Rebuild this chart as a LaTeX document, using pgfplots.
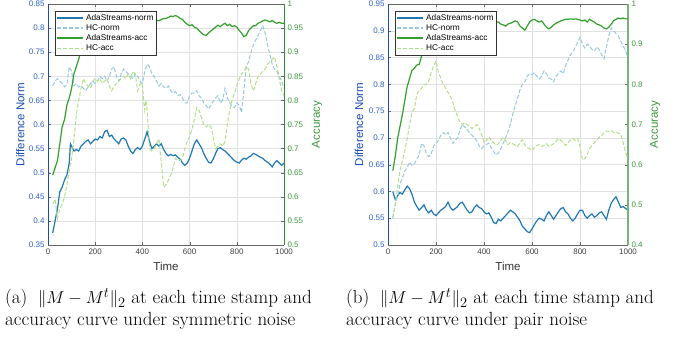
\documentclass[border=0pt]{standalone}
\usepackage{fontspec}
\usepackage{pgfplots}
\pgfplotsset{compat=1.18}
\newfontfamily\arial{Liberation Sans}
\definecolor{cAN}{RGB}{31,120,180}
\definecolor{cHN}{RGB}{150,200,225}
\definecolor{cAA}{RGB}{51,160,44}
\definecolor{cHA}{RGB}{178,223,138}
\definecolor{cL}{RGB}{25,75,185}
\definecolor{cLt}{RGB}{45,95,200}
\definecolor{cR}{RGB}{45,140,45}
\definecolor{cRt}{RGB}{60,150,60}
\definecolor{cRb}{RGB}{120,180,120}
\tikzset{
  adaNormSty/.style={color=cAN, line width=1.2pt},
  hcNormSty/.style={color=cHN, line width=1pt, dash pattern=on 4pt off 2pt},
  adaAccSty/.style={color=cAA, line width=1.2pt},
  hcAccSty/.style={color=cHA, line width=1pt, dash pattern=on 4pt off 2pt},
}
\newcommand\labfont{\arial\fontsize{11.5}{12}\selectfont}
\pgfplotsset{
  base/.style={
    scale only axis, height=241pt,
    xmin=0, xmax=1000, xtick={0,200,400,600,800,1000},
    /pgf/number format/assume math mode=true,
    /pgf/number format/fixed, /pgf/number format/1000 sep={}, scaled ticks=false,
    tick label style={font=\arial\fontsize{8}{9}\selectfont},
    xticklabel style={text=black!75},
    major tick length=3pt,
    tick style={black!60},
    every axis x label/.style={at={(axis description cs:0.5,-0.087)}, anchor=center, text=black!80, font=\labfont},
  },
  leftax/.style={
    base, grid=major, grid style={black!12, line width=0.4pt},
    separate axis lines,
    x axis line style={draw=black!60, line width=0.6pt},
    y axis line style={draw=cL, line width=0.8pt},
    yticklabel style={text=cLt}, ytick pos=left,
    xlabel={Time}, ylabel={Difference Norm},
  },
  rightax/.style={
    base, axis y line*=right, axis x line=none,
    yticklabel style={text=cRt},
    ylabel={Accuracy},
    legend cell align=left,
    legend image code/.code={\draw[##1] (0pt,0.3pt) -- (26pt,0.3pt);},
    legend style={at={(0.03,0.971)}, anchor=north west,
      font=\arial\fontsize{8.3}{9}\selectfont, draw=black!80, line width=0.6pt,
      fill=white, inner sep=1pt, row sep=-1.2pt},
  },
}
\newcommand\legimgs{%
\addlegendimage{color=cAN, line width=1.7pt}\addlegendentry{AdaStreams-norm}
\addlegendimage{color=cHN, line width=1.2pt, dash pattern=on 4pt off 2pt}\addlegendentry{HC-norm}
\addlegendimage{color=cAA, line width=1.7pt}\addlegendentry{AdaStreams-acc}
\addlegendimage{color=cHA, line width=1.2pt, dash pattern=on 4pt off 2pt}\addlegendentry{HC-acc}}
\begin{document}
\begin{tikzpicture}
\useasboundingbox (0,0) rectangle (685pt,337pt);
% ---------------- (a) left axis
\begin{axis}[leftax, at={(48pt,92pt)}, anchor=south west, width=236pt,
  ymin=0.35, ymax=0.85, ytick={0.35,0.4,0.45,0.5,0.55,0.6,0.65,0.7,0.75,0.8,0.85},
  every axis y label/.style={at={(axis description cs:-0.118,0.5)}, rotate=90, anchor=center, text=cL, font=\labfont}]
\addplot[adaNormSty] coordinates {(20,0.375) (30,0.40) (40,0.425) (50,0.46) (60,0.47) (70,0.485) (80,0.495) (90,0.52) (95,0.56) (100,0.555) (110,0.545) (120,0.548) (130,0.545) (140,0.555) (150,0.56) (160,0.565) (170,0.568) (180,0.56) (190,0.565) (200,0.57) (210,0.568) (220,0.575) (230,0.572) (240,0.585) (250,0.588) (260,0.575) (270,0.578) (280,0.57) (290,0.565) (300,0.56) (310,0.57) (320,0.572) (330,0.568) (340,0.555) (350,0.545) (360,0.54) (370,0.548) (380,0.552) (390,0.548) (400,0.555) (410,0.57) (420,0.585) (430,0.565) (440,0.55) (450,0.555) (460,0.56) (470,0.555) (480,0.56) (490,0.548) (500,0.54) (510,0.535) (520,0.538) (530,0.535) (540,0.537) (550,0.532) (560,0.528) (570,0.52) (580,0.515) (590,0.52) (600,0.53) (610,0.545) (620,0.56) (630,0.568) (640,0.56) (650,0.552) (660,0.54) (670,0.53) (680,0.522) (690,0.52) (700,0.528) (710,0.54) (720,0.55) (730,0.552) (740,0.548) (750,0.545) (760,0.54) (770,0.535) (780,0.53) (790,0.525) (800,0.522) (810,0.52) (820,0.526) (830,0.53) (840,0.528) (850,0.532) (860,0.535) (870,0.54) (880,0.538) (890,0.535) (900,0.532) (910,0.53) (920,0.525) (930,0.522) (940,0.518) (950,0.512) (960,0.52) (970,0.525) (980,0.52) (990,0.515) (1000,0.52)};
\addplot[hcNormSty] coordinates {(20,0.68) (30,0.69) (40,0.695) (50,0.69) (60,0.685) (70,0.678) (80,0.683) (90,0.72) (100,0.71) (110,0.68) (120,0.685) (130,0.678) (140,0.68) (150,0.675) (160,0.67) (170,0.678) (180,0.685) (190,0.69) (200,0.685) (210,0.69) (220,0.70) (230,0.695) (240,0.70) (250,0.69) (260,0.70) (270,0.715) (280,0.72) (290,0.70) (300,0.69) (310,0.705) (320,0.715) (330,0.71) (340,0.705) (350,0.70) (360,0.695) (370,0.705) (380,0.70) (390,0.69) (400,0.685) (410,0.71) (420,0.725) (430,0.72) (440,0.705) (450,0.70) (460,0.69) (470,0.68) (480,0.685) (490,0.678) (500,0.675) (510,0.68) (520,0.67) (530,0.665) (540,0.668) (550,0.66) (560,0.662) (570,0.655) (580,0.645) (590,0.645) (600,0.66) (610,0.665) (620,0.665) (630,0.67) (640,0.66) (650,0.655) (660,0.645) (670,0.64) (680,0.632) (690,0.64) (700,0.648) (710,0.655) (720,0.66) (730,0.645) (740,0.65) (750,0.675) (760,0.655) (770,0.645) (780,0.638) (790,0.635) (800,0.645) (810,0.64) (820,0.625) (830,0.67) (840,0.72) (850,0.73) (860,0.75) (870,0.765) (880,0.775) (890,0.785) (900,0.795) (910,0.805) (920,0.79) (930,0.765) (940,0.745) (950,0.725) (960,0.715) (970,0.71) (980,0.70) (990,0.69) (1000,0.675)};
\end{axis}
% ---------------- (a) right axis
\begin{axis}[rightax, at={(48pt,92pt)}, anchor=south west, width=236pt,
  ymin=0.5, ymax=1, ytick={0.5,0.55,0.6,0.65,0.7,0.75,0.8,0.85,0.9,0.95,1},
  y axis line style={draw=cR, line width=0.8pt},
  every axis y label/.style={at={(axis description cs:1.14,0.5)}, rotate=90, anchor=center, text=cRt, font=\labfont}]
\legimgs
\addplot[adaAccSty, forget plot] coordinates {(20,0.645) (30,0.66) (40,0.675) (50,0.71) (60,0.745) (70,0.76) (80,0.79) (90,0.805) (100,0.825) (110,0.855) (120,0.87) (130,0.885) (140,0.905) (150,0.92) (160,0.935) (180,0.95) (200,0.955) (250,0.96) (300,0.965) (350,0.965) (400,0.96) (430,0.965) (440,0.965) (450,0.962) (460,0.966) (470,0.965) (480,0.968) (490,0.97) (500,0.97) (510,0.972) (520,0.975) (530,0.974) (540,0.976) (550,0.974) (560,0.97) (570,0.968) (580,0.962) (590,0.958) (600,0.955) (610,0.957) (620,0.952) (630,0.95) (640,0.945) (650,0.94) (660,0.936) (670,0.935) (680,0.94) (690,0.944) (700,0.948) (710,0.952) (720,0.956) (730,0.953) (740,0.957) (750,0.96) (760,0.955) (770,0.958) (780,0.953) (790,0.955) (800,0.952) (810,0.945) (820,0.94) (830,0.932) (840,0.935) (850,0.945) (860,0.95) (870,0.955) (880,0.955) (890,0.96) (900,0.962) (910,0.965) (920,0.967) (930,0.965) (940,0.963) (950,0.966) (960,0.962) (970,0.96) (980,0.962) (990,0.96) (1000,0.96)};
\addplot[hcAccSty, forget plot] coordinates {(20,0.585) (30,0.595) (40,0.555) (50,0.575) (60,0.585) (70,0.60) (80,0.625) (90,0.655) (100,0.68) (110,0.72) (120,0.77) (130,0.80) (140,0.825) (150,0.845) (160,0.835) (170,0.83) (180,0.825) (190,0.84) (200,0.845) (210,0.84) (220,0.845) (230,0.835) (240,0.84) (250,0.845) (260,0.83) (270,0.82) (280,0.83) (290,0.835) (300,0.84) (310,0.845) (320,0.85) (330,0.845) (340,0.855) (350,0.845) (360,0.86) (370,0.855) (380,0.82) (390,0.835) (400,0.835) (405,0.80) (410,0.78) (415,0.80) (420,0.78) (430,0.70) (440,0.695) (450,0.70) (460,0.71) (470,0.72) (480,0.67) (490,0.62) (500,0.625) (510,0.635) (520,0.645) (530,0.66) (540,0.68) (550,0.675) (560,0.675) (570,0.68) (580,0.70) (590,0.715) (600,0.725) (610,0.74) (620,0.76) (630,0.785) (640,0.78) (650,0.765) (660,0.75) (670,0.745) (680,0.75) (690,0.745) (700,0.725) (710,0.70) (720,0.705) (730,0.71) (740,0.705) (750,0.715) (760,0.75) (770,0.78) (780,0.80) (790,0.815) (800,0.83) (810,0.845) (820,0.855) (830,0.86) (840,0.87) (850,0.865) (860,0.835) (870,0.82) (880,0.835) (890,0.85) (900,0.855) (910,0.86) (920,0.865) (930,0.875) (940,0.88) (950,0.885) (960,0.89) (970,0.87) (980,0.845) (990,0.82) (1000,0.81)};
\end{axis}
% ---------------- (b) left axis
\begin{axis}[leftax, at={(388pt,92pt)}, anchor=south west, width=240pt,
  ymin=0.5, ymax=0.95, ytick={0.5,0.55,0.6,0.65,0.7,0.75,0.8,0.85,0.9,0.95},
  every axis y label/.style={at={(axis description cs:-0.121,0.5)}, rotate=90, anchor=center, text=cL, font=\labfont}]
\addplot[adaNormSty] coordinates {(20,0.60) (30,0.585) (40,0.592) (50,0.598) (60,0.595) (70,0.603) (80,0.61) (90,0.605) (100,0.595) (110,0.58) (120,0.572) (130,0.565) (140,0.57) (150,0.575) (160,0.565) (170,0.56) (180,0.565) (190,0.558) (200,0.555) (210,0.56) (220,0.565) (230,0.568) (240,0.572) (250,0.58) (260,0.57) (270,0.565) (280,0.568) (290,0.572) (300,0.578) (310,0.58) (320,0.572) (330,0.565) (340,0.56) (350,0.562) (360,0.57) (370,0.575) (380,0.57) (390,0.568) (400,0.562) (410,0.558) (420,0.56) (430,0.552) (440,0.542) (450,0.54) (460,0.548) (470,0.545) (480,0.55) (490,0.555) (500,0.56) (510,0.565) (520,0.562) (530,0.558) (540,0.552) (550,0.545) (560,0.535) (570,0.53) (580,0.525) (590,0.523) (600,0.53) (610,0.538) (620,0.545) (630,0.55) (640,0.548) (650,0.545) (660,0.555) (670,0.562) (680,0.555) (690,0.548) (700,0.555) (710,0.562) (720,0.568) (730,0.57) (740,0.562) (750,0.558) (760,0.55) (770,0.545) (780,0.55) (790,0.558) (800,0.565) (810,0.565) (820,0.555) (830,0.55) (840,0.555) (850,0.558) (860,0.552) (870,0.555) (880,0.56) (890,0.562) (900,0.555) (910,0.548) (920,0.565) (930,0.578) (940,0.585) (950,0.59) (960,0.58) (970,0.57) (980,0.572) (990,0.568) (1000,0.565)};
\addplot[hcNormSty] coordinates {(20,0.55) (30,0.575) (40,0.59) (50,0.615) (60,0.625) (70,0.638) (80,0.645) (90,0.655) (100,0.648) (110,0.652) (120,0.66) (130,0.668) (140,0.69) (150,0.685) (160,0.67) (170,0.665) (180,0.67) (190,0.685) (200,0.69) (210,0.695) (220,0.705) (230,0.71) (240,0.705) (250,0.71) (260,0.70) (270,0.69) (280,0.695) (290,0.70) (300,0.715) (310,0.725) (320,0.72) (330,0.715) (340,0.71) (350,0.705) (360,0.70) (370,0.695) (380,0.685) (390,0.68) (400,0.685) (410,0.688) (420,0.69) (430,0.682) (440,0.675) (450,0.668) (460,0.672) (470,0.68) (480,0.69) (490,0.70) (500,0.712) (510,0.725) (520,0.745) (530,0.76) (540,0.775) (550,0.79) (560,0.80) (570,0.805) (580,0.815) (590,0.82) (600,0.818) (610,0.822) (620,0.815) (630,0.81) (640,0.815) (650,0.825) (660,0.82) (670,0.812) (680,0.81) (690,0.805) (700,0.815) (710,0.82) (720,0.825) (730,0.82) (740,0.835) (750,0.845) (760,0.855) (770,0.86) (780,0.87) (790,0.878) (800,0.888) (810,0.875) (820,0.868) (830,0.875) (840,0.872) (850,0.865) (860,0.862) (870,0.87) (880,0.865) (890,0.855) (900,0.848) (910,0.87) (920,0.89) (930,0.905) (940,0.9) (950,0.895) (960,0.89) (970,0.88) (980,0.872) (990,0.862) (1000,0.85)};
\end{axis}
% ---------------- (b) right axis
\begin{axis}[rightax, at={(388pt,92pt)}, anchor=south west, width=240pt,
  ymin=0.4, ymax=1, ytick={0.4,0.5,0.6,0.7,0.8,0.9,1},
  y axis line style={draw=cRb, line width=1.6pt},
  every axis y label/.style={at={(axis description cs:1.1125,0.5)}, rotate=90, anchor=center, text=cRt, font=\labfont}]
\legimgs
\addplot[adaAccSty, forget plot] coordinates {(20,0.585) (30,0.62) (40,0.665) (50,0.695) (60,0.725) (70,0.76) (80,0.795) (90,0.815) (100,0.835) (110,0.84) (120,0.848) (130,0.85) (140,0.87) (150,0.885) (170,0.905) (200,0.925) (250,0.94) (300,0.95) (350,0.955) (400,0.955) (430,0.958) (440,0.96) (450,0.955) (460,0.955) (470,0.95) (480,0.948) (490,0.945) (500,0.95) (510,0.952) (520,0.955) (530,0.958) (540,0.955) (550,0.945) (560,0.94) (570,0.935) (580,0.945) (590,0.955) (600,0.96) (610,0.962) (620,0.958) (630,0.955) (640,0.958) (650,0.95) (660,0.942) (670,0.938) (680,0.942) (690,0.948) (700,0.952) (710,0.955) (720,0.958) (730,0.96) (740,0.962) (750,0.962) (760,0.963) (770,0.962) (780,0.963) (790,0.962) (800,0.96) (810,0.958) (820,0.96) (830,0.955) (840,0.962) (850,0.958) (860,0.955) (870,0.95) (880,0.948) (890,0.945) (900,0.94) (910,0.938) (920,0.942) (930,0.95) (940,0.958) (950,0.962) (960,0.965) (970,0.963) (980,0.965) (990,0.963) (1000,0.963)};
\addplot[hcAccSty, forget plot] coordinates {(20,0.468) (30,0.50) (40,0.545) (50,0.585) (60,0.61) (70,0.635) (80,0.665) (90,0.70) (100,0.73) (110,0.74) (120,0.775) (130,0.785) (140,0.79) (150,0.80) (160,0.80) (170,0.81) (180,0.83) (190,0.845) (200,0.858) (210,0.83) (220,0.815) (230,0.80) (240,0.79) (250,0.78) (260,0.77) (270,0.755) (280,0.735) (290,0.72) (300,0.705) (310,0.70) (320,0.705) (330,0.70) (340,0.695) (350,0.69) (360,0.695) (370,0.70) (380,0.69) (390,0.675) (400,0.655) (410,0.66) (420,0.67) (430,0.66) (440,0.655) (450,0.648) (460,0.652) (470,0.66) (480,0.668) (490,0.66) (500,0.65) (510,0.655) (520,0.652) (530,0.648) (540,0.645) (550,0.655) (560,0.662) (570,0.65) (580,0.642) (590,0.64) (600,0.635) (610,0.642) (620,0.648) (630,0.65) (640,0.645) (650,0.648) (660,0.652) (670,0.645) (680,0.648) (690,0.652) (700,0.658) (710,0.665) (720,0.66) (730,0.655) (740,0.648) (750,0.655) (760,0.662) (770,0.665) (780,0.66) (790,0.665) (800,0.645) (810,0.612) (820,0.615) (830,0.625) (840,0.64) (850,0.648) (860,0.655) (870,0.662) (880,0.668) (890,0.672) (900,0.68) (910,0.684) (920,0.683) (930,0.685) (940,0.68) (950,0.682) (960,0.678) (970,0.675) (980,0.655) (990,0.63) (1000,0.615)};
\end{axis}
% ---------------- captions
\begin{scope}[every node/.style={anchor=base west, inner sep=0pt, font=\fontsize{19}{22}\selectfont}]
\node at (5pt,33pt) {(a)\hspace{0.55em}$\|M - M^t\|_2$ at each time stamp and};
\node at (5pt,11pt) {accuracy curve under symmetric noise};
\node at (346pt,33pt) {(b)\hspace{0.55em}$\|M - M^t\|_2$ at each time stamp and};
\node at (346pt,11pt) {accuracy curve under pair noise};
\end{scope}
\end{tikzpicture}
\end{document}
